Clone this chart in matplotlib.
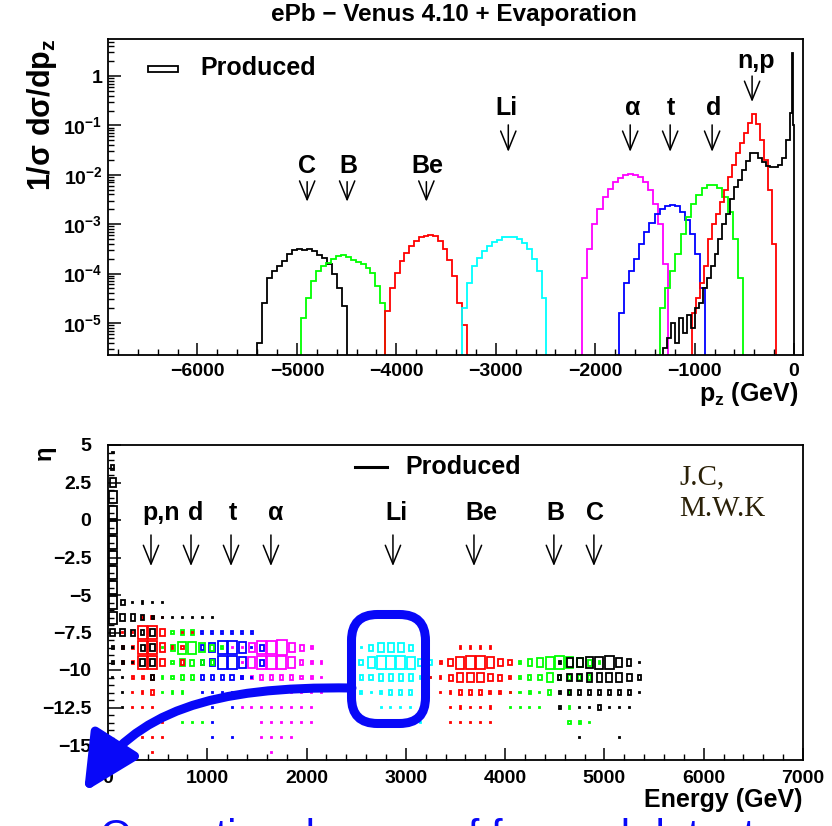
import numpy as np
import matplotlib
matplotlib.use("Agg")
import matplotlib.pyplot as plt
from matplotlib.patches import Rectangle, FancyBboxPatch, FancyArrowPatch
from matplotlib.path import Path
from matplotlib.lines import Line2D
from matplotlib.ticker import MultipleLocator, FuncFormatter, LogLocator, NullFormatter

plt.rcParams['font.family'] = ['Liberation Sans', 'DejaVu Sans']
plt.rcParams['font.weight'] = 'bold'
plt.rcParams['mathtext.fontset'] = 'custom'
plt.rcParams['mathtext.rm'] = 'Liberation Sans:bold'
plt.rcParams['mathtext.it'] = 'Liberation Sans:bold'
plt.rcParams['mathtext.bf'] = 'Liberation Sans:bold'
plt.rcParams['mathtext.default'] = 'rm'

# ---------------- top panel: p_z spectra (log10 of 1/sigma dsigma/dpz per bin) ----------------
C_start, C_width = -5400, 50
C_log = [-5.4, -4.6, -4.1, -3.95, -3.85, -3.75, -3.6, -3.52, -3.5, -3.53, -3.51, -3.55,
         -3.62, -3.68, -3.8, -4.0, -4.3, -4.65]
B_start, B_width = -4960, 50
B_log = [-4.9, -4.5, -4.15, -3.95, -3.85, -3.78, -3.7, -3.65, -3.62, -3.66, -3.72, -3.76,
         -3.8, -3.88, -3.98, -4.25, -4.6]
Be_start, Be_width = -4110, 48
Be_log = [-4.75, -4.3, -3.98, -3.75, -3.58, -3.45, -3.35, -3.27, -3.23, -3.21, -3.25, -3.35,
          -3.5, -3.72, -4.05, -4.6, -5.05]
Li_start, Li_width = -3340, 50
Li_log = [-4.7, -4.2, -3.85, -3.68, -3.55, -3.45, -3.37, -3.32, -3.27, -3.27, -3.27, -3.3,
          -3.38, -3.5, -3.7, -3.95, -4.5]
alpha_start, alpha_width = -2130, 51
alpha_log = [-4.1, -3.5, -3.0, -2.7, -2.45, -2.28, -2.15, -2.06, -2.0, -1.99, -2.0, -2.05,
             -2.15, -2.3, -2.6, -3.0, -3.8]
t_start, t_width = -1760, 51
t_log = [-4.8, -4.2, -3.95, -3.7, -3.4, -3.15, -2.97, -2.8, -2.7, -2.63, -2.61, -2.64,
         -2.75, -2.92, -3.2, -3.6, -4.3]
d_start, d_width = -1350, 52.5
d_log = [-4.7, -4.3, -3.95, -3.6, -3.2, -2.85, -2.6, -2.4, -2.27, -2.21, -2.2, -2.27,
         -2.45, -2.75, -3.3, -4.1]
np_start, np_width = -1025, 40
np_log = [-4.8, -4.5, -4.2, -3.85, -3.3, -3.0, -2.8, -2.55, -2.3, -2.05, -1.8, -1.55,
          -1.35, -1.15, -0.95, -0.76, -0.98, -1.3, -1.7, -2.3, -3.4]
prod_edges = [-1320, -1280, -1240, -1200, -1160, -1120, -1080, -1040, -1000, -960, -920,
              -880, -840, -800, -760, -720, -680, -640, -600, -560, -520, -480, -440, -400,
              -360, -320, -280, -240, -200, -160, -120, -80, -40, -22, -12, 0]
prod_log = [-5.5, -5.3, -5.0, -5.4, -4.9, -5.2, -4.85, -5.1, -4.7, -4.6, -4.3, -4.1, -3.85,
            -3.6, -3.3, -3.0, -2.8, -2.5, -2.25, -2.1, -1.9, -1.72, -1.55, -1.55, -1.65,
            -1.75, -1.82, -1.85, -1.85, -1.8, -1.65, -1.3, -0.75, 0.46, -1.0]

top_labels = ['C', 'B', 'Be', 'Li', r'$\alpha$', 't', 'd', 'n,p']
top_label_x = [-4899, -4482, -3688, -2894, -1628, -1236, -804, -382]
top_arrow_x = [-4897, -4495, -3698, -2874, -1648, -1246, -824, -422]

# ---------------- bottom panel: eta vs energy box histograms ----------------
XBIN = 100.0   # GeV per column
YBIN = 1.0     # eta per row
# (row centre eta, first column index, box sizes relative to cell)
prod_grid = [
    (4.5, 0, [0.12]), (3.5, 0, [0.3]), (2.5, 0, [0.6]), (1.5, 0, [0.8]), (0.5, 0, [0.85]),
    (-0.5, 0, [0.85]), (-1.5, 0, [0.85]), (-2.5, 0, [0.85]), (-3.5, 0, [0.85]),
    (-4.5, 0, [0.85]), (-5.5, 0, [0.85, 0.35, 0.1, 0.15, 0.1, 0.1]),
    (-6.5, 0, [0.8, 0.5, 0.45, 0.3, 0.2, 0.1, 0.08, 0.08, 0.08, 0.08, 0.08]),
    (-7.5, 0, [0.5, 0.5, 0.4, 0.3, 0.5]),
    (-8.5, 0, [0.2, 0.2, 0.1, 0.4, 0.5]),
    (-9.5, 0, [0.15, 0.15, 0.1, 0.5, 0.5]),
    (-10.5, 0, [0.1, 0.1, 0.0, 0.0, 0.3]),
    (-11.5, 0, [0.0, 0.1]),
    (-12.5, 0, [0.0, 0.1]),
    (-9.5, 45, [0.2, 0.6, 0.6, 0.7, 0.8, 0.9, 0.6, 0.45, 0.1]),
    (-10.5, 45, [0.35, 0.5, 0.5, 0.55, 0.55, 0.6, 0.6, 0.5, 0.3]),
    (-11.5, 45, [0.25, 0.35, 0.3, 0.3, 0.3, 0.3, 0.3, 0.3, 0.1]),
    (-12.5, 45, [0.25, 0.0, 0.1, 0.1, 0.3, 0.1, 0.1, 0.1]),
    (-14.5, 47, [0.1, 0.0, 0.0, 0.0, 0.1]),
]
red_grid = [
    (-6.5, 3, [0.15, 0.25, 0.12]),
    (-7.5, 1, [0.12, 0.12, 0.9, 0.85, 0.5, 0.0, 0.1, 0.1]),
    (-8.5, 1, [0.15, 0.25, 0.9, 0.9, 0.55, 0.15, 0.25]),
    (-9.5, 1, [0.15, 0.2, 0.9, 0.9, 0.45, 0.0, 0.3]),
    (-10.5, 2, [0.2, 0.25, 0.35]),
    (-11.5, 2, [0.1, 0.15, 0.3]),
    (-12.5, 2, [0.1, 0.1, 0.1]),
    (-13.5, 4, [0.1, 0.1]),
    (-14.5, 3, [0.1, 0.1, 0.1]),
    (-15.5, 4, [0.1]),
    # Be
    (-8.5, 35, [0.15, 0.15, 0.15, 0.15]),
    (-9.5, 33, [0.2, 0.5, 0.8, 0.9, 0.9, 0.75, 0.5, 0.35]),
    (-10.5, 32, [0.1, 0.15, 0.4, 0.6, 0.65, 0.65, 0.5, 0.4, 0.2]),
    (-11.5, 33, [0.1, 0.15, 0.3, 0.3, 0.3, 0.25, 0.25, 0.1]),
    (-12.5, 34, [0.1, 0.15, 0.1, 0.1, 0.15]),
    (-13.5, 34, [0.1, 0.1, 0.1, 0.1, 0.1]),
]
green_grid = [
    (-7.5, 6, [0.25, 0.3, 0.3]),
    (-8.5, 5, [0.12, 0.4, 0.8, 0.8, 0.6, 0.4, 0.15]),
    (-9.5, 6, [0.25, 0.5, 0.4, 0.3, 0.3]),
    (-10.5, 5, [0.15, 0.25, 0.3, 0.3]),
    (-11.5, 5, [0.1, 0.15, 0.15]),
    (-12.5, 8, [0.1]),
    (-13.5, 7, [0.1, 0.1, 0.1]),
    # B
    (-9.5, 41, [0.2, 0.45, 0.6, 0.8, 0.9, 0.7, 0.6, 0.4, 0.15]),
    (-10.5, 41, [0.15, 0.3, 0.35, 0.6, 0.3, 0.35, 0.35, 0.3]),
    (-11.5, 40, [0.1, 0.12, 0.25, 0.1, 0.3, 0.0, 0.15]),
    (-12.5, 40, [0.1, 0.1, 0.1, 0.1, 0.0, 0.0, 0.15]),
    (-13.5, 46, [0.25, 0.2, 0.12]),
]
blue_grid = [
    (-7.5, 9, [0.2, 0.2, 0.2, 0.2, 0.2, 0.15]),
    (-8.5, 9, [0.3, 0.6, 0.9, 0.9, 0.7, 0.1, 0.4]),
    (-9.5, 9, [0.35, 0.5, 0.9, 0.9, 0.7, 0.0, 0.4]),
    (-10.5, 9, [0.3, 0.3, 0.3, 0.35, 0.2, 0.1]),
    (-11.5, 9, [0.1, 0.1, 0.1, 0.1]),
    (-12.5, 10, [0.1, 0.0, 0.1]),
    (-13.5, 10, [0.1]),
    (-14.5, 10, [0.1, 0.0, 0.1]),
]
magenta_grid = [
    (-8.5, 12, [0.1, 0.1, 0.6, 0.9, 0.9, 1.0, 0.6, 0.4, 0.2]),
    (-9.5, 13, [0.1, 0.7, 0.9, 0.9, 0.9, 0.7, 0.35, 0.2, 0.15]),
    (-10.5, 13, [0.2, 0.25, 0.3, 0.3, 0.3, 0.3, 0.25, 0.2, 0.12]),
    (-11.5, 13, [0.1, 0.1, 0.1, 0.1, 0.1, 0.1, 0.1, 0.1, 0.1]),
    (-12.5, 13, [0.1, 0.1, 0.1, 0.1, 0.1, 0.1, 0.1, 0.1]),
    (-13.5, 15, [0.1, 0.1, 0.1, 0.1, 0.1, 0.1]),
    (-14.5, 15, [0.1, 0.1, 0.1, 0.1]),
    (-15.5, 16, [0.1]),
]
cyan_grid = [
    (-8.5, 25, [0.1, 0.4, 0.55, 0.65, 0.6, 0.4]),
    (-9.5, 25, [0.35, 0.7, 0.9, 0.9, 0.9, 0.8, 0.5, 0.3]),
    (-10.5, 25, [0.3, 0.35, 0.45, 0.45, 0.45, 0.45, 0.2, 0.1]),
    (-11.5, 25, [0.15, 0.1, 0.25, 0.3, 0.3, 0.3]),
    (-12.5, 27, [0.1, 0.1, 0.1, 0.1]),
    (-13.5, 31, [0.12]),
]

bot_labels = ['p,n', 'd', 't', r'$\alpha$', 'Li', 'Be', 'B', 'C']
bot_label_x = [534, 886, 1259, 1692, 2910, 3756, 4501, 4904]
bot_arrow_x = [433, 836, 1239, 1641, 2870, 3686, 4491, 4894]

# ---------------- figure ----------------
W, H = 832, 826
fig = plt.figure(figsize=(W / 100, H / 100), dpi=100)

def fx(px):
    return px / W

def fy(py):
    return 1 - py / H

ax1 = fig.add_axes([fx(108), fy(355), fx(803) - fx(108), fy(39) - fy(355)])
ax2 = fig.add_axes([fx(108), fy(760), fx(803) - fx(108), fy(445) - fy(760)])

LW = 1.3

def hist(ax, start, width, logs, color):
    edges = start + width * np.arange(len(logs) + 1)
    ax.stairs(10 ** np.array(logs), edges, baseline=1e-9, color=color, lw=LW)

hist(ax1, C_start, C_width, C_log, 'black')
hist(ax1, B_start, B_width, B_log, '#00ff00')
hist(ax1, Be_start, Be_width, Be_log, '#ff0000')
hist(ax1, Li_start, Li_width, Li_log, '#00ffff')
hist(ax1, alpha_start, alpha_width, alpha_log, '#ff00ff')
hist(ax1, t_start, t_width, t_log, '#0000ff')
hist(ax1, d_start, d_width, d_log, '#00ff00')
hist(ax1, np_start, np_width, np_log, '#ff0000')
ax1.stairs(10 ** np.array(prod_log), np.array(prod_edges, float), baseline=1e-9,
           color='black', lw=LW)

ax1.set_yscale('log')
ax1.set_xlim(-6900, 90)
ax1.set_ylim(10 ** -5.65, 10 ** 0.75)

def fmt_log(v, pos):
    e = int(round(np.log10(v)))
    if e == 0:
        return '1'
    return r'$10^{%d}$' % e

ax1.yaxis.set_major_locator(LogLocator(base=10, numticks=20))
ax1.yaxis.set_minor_locator(LogLocator(base=10, subs=np.arange(2, 10), numticks=20))
ax1.yaxis.set_major_formatter(FuncFormatter(fmt_log))
ax1.yaxis.set_minor_formatter(NullFormatter())
ax1.xaxis.set_major_locator(MultipleLocator(1000))
ax1.xaxis.set_minor_locator(MultipleLocator(200))
ax1.xaxis.set_major_formatter(FuncFormatter(lambda v, p: ('%d' % v).replace('-', '\u2212')))

ax2.set_xlim(0, 7000)
ax2.set_ylim(-16, 5)
ax2.xaxis.set_major_locator(MultipleLocator(1000))
ax2.xaxis.set_minor_locator(MultipleLocator(200))
ax2.yaxis.set_major_locator(MultipleLocator(2.5))
ax2.yaxis.set_minor_locator(MultipleLocator(0.5))
ax2.xaxis.set_major_formatter(FuncFormatter(lambda v, p: '%d' % v))
ax2.yaxis.set_major_formatter(FuncFormatter(lambda v, p: ('%g' % v).replace('-', '\u2212')))

for ax in (ax1, ax2):
    for s in ax.spines.values():
        s.set_linewidth(1.3)
    ax.tick_params(which='major', direction='in', length=9, width=1.1, labelsize=14,
                   top=False, right=False)
    ax.tick_params(which='minor', direction='in', length=4.5, width=1.0, top=False, right=False)
ax1.tick_params(axis='x', which='major', pad=6)
ax1.tick_params(axis='y', which='major', pad=4)
ax2.tick_params(axis='x', which='major', pad=7)
ax2.tick_params(axis='y', which='major', pad=12)

# box histograms
def boxes(ax, grid, color):
    for eta, c0, sizes in grid:
        for i, s in enumerate(sizes):
            if s <= 0:
                continue
            xc = (c0 + i + 0.5) * XBIN
            w, h = s * XBIN, s * YBIN
            ax.add_patch(Rectangle((xc - w / 2, eta - h / 2), w, h, fill=False,
                                   ec=color, lw=1.3))

boxes(ax2, cyan_grid, '#00ffff')
boxes(ax2, magenta_grid, '#ff00ff')
boxes(ax2, blue_grid, '#0000ff')
boxes(ax2, green_grid, '#00ff00')
boxes(ax2, red_grid, '#ff0000')
boxes(ax2, prod_grid, 'black')

# titles and axis labels
fig.text(fx(454), fy(14), 'ePb \u2212 Venus 4.10 + Evaporation', ha='center', va='center',
         fontsize=17.5)
fig.text(fx(42), fy(38), r'$1/\sigma\ d\sigma/dp_{z}$', rotation=90, ha='center', va='top',
         fontsize=22)
fig.text(fx(798), fy(380), r'$p_{z}$ (GeV)', ha='right', va='top', fontsize=18)
fig.text(fx(44), fy(446), '\u03b7', rotation=90, ha='center', va='top', fontsize=17)
fig.text(fx(802), fy(800), 'Energy (GeV)', ha='right', va='center', fontsize=18)

# legends
ax1.add_patch(Rectangle((0.0576, 0.8956), 0.0431, 0.019, transform=ax1.transAxes,
                        fill=False, ec='black', lw=1.3))
ax1.text(0.1324, 0.908, 'Produced', transform=ax1.transAxes, ha='left', va='center',
         fontsize=18)
ax2.add_line(Line2D([0.3554, 0.4014], [0.930, 0.930], transform=ax2.transAxes,
                    color='black', lw=2.2))
ax2.text(0.4273, 0.930, 'Produced', transform=ax2.transAxes, ha='left', va='center',
         fontsize=18)

# species labels and arrows
arrow_kw = dict(arrowstyle='->,head_length=1.35,head_width=0.55', color='black', lw=1.1,
                mutation_scale=10, shrinkA=0, shrinkB=0)
top_label_y = [10 ** -1.82] * 3 + [10 ** -0.646] * 4 + [10 ** 0.30]
top_arrow_top = [10 ** -2.14] * 3 + [10 ** -0.99] * 4 + [10 ** 0.0]
top_arrow_tip = [10 ** -2.545] * 3 + [10 ** -1.535] * 4 + [10 ** -0.525]
for lab, lx, axx, ly, a0, a1 in zip(top_labels, top_label_x, top_arrow_x, top_label_y,
                                    top_arrow_top, top_arrow_tip):
    ax1.text(lx, ly, lab, ha='center', va='center', fontsize=18)
    ax1.annotate('', xy=(axx, a1), xytext=(axx, a0), arrowprops=arrow_kw)

for lab, lx, axx in zip(bot_labels, bot_label_x, bot_arrow_x):
    ax2.text(lx, 0.47, lab, ha='center', va='center', fontsize=18)
    ax2.annotate('', xy=(axx, -3.07), xytext=(axx, -1.0), arrowprops=arrow_kw)

ax2.text(0.8216, 0.94, 'J.C,\nM.W.K', transform=ax2.transAxes, ha='left', va='top',
         fontsize=21, family='Liberation Serif', weight='normal', color='#2b2108',
         linespacing=1.3)

# blue annotation: ring around Li and curved arrow
BLUE = '#0808f8'
ring = FancyBboxPatch((fx(351.5), fy(723.5)), fx(425.5) - fx(351.5), fy(614.5) - fy(723.5),
                      boxstyle='round,pad=0,rounding_size=%f' % (26 / W),
                      mutation_aspect=W / H, transform=fig.transFigure, fill=False,
                      ec=BLUE, lw=6.5, clip_on=False)
fig.add_artist(ring)
verts = [(fx(352), fy(688)), (fx(210), fy(686)), (fx(135), fy(712)), (fx(84), fy(792))]
arr = FancyArrowPatch(path=Path(verts, [Path.MOVETO, Path.CURVE4, Path.CURVE4, Path.CURVE4]),
                      arrowstyle='-|>,head_length=0.85,head_width=0.42', mutation_scale=40,
                      transform=fig.transFigure, color=BLUE, lw=6.5, shrinkA=0, shrinkB=0,
                      clip_on=False)
fig.add_artist(arr)

fig.text(fx(100), fy(818), 'Operational range of forward detectors',
         ha='left', va='top', fontsize=30, color=BLUE, weight='normal')

fig.savefig('out.png', dpi=100)
